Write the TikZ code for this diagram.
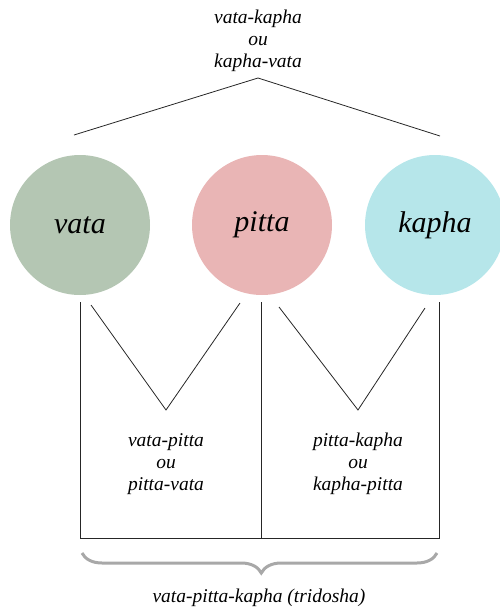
\documentclass[tikz,border=0pt]{standalone}
\usepackage{fontspec}
\setmainfont{Liberation Serif}
\usetikzlibrary{decorations.pathreplacing}
\definecolor{vatac}{HTML}{B4C6B3}
\definecolor{pittac}{HTML}{E9B5B5}
\definecolor{kaphac}{HTML}{B6E6EA}
\definecolor{bracec}{HTML}{A8A8A8}
\begin{document}
\begin{tikzpicture}[x=1pt,y=-1pt,
  dosha/.style={circle,minimum size=140pt,inner sep=0pt,font=\fontsize{30}{32}\selectfont\itshape},
  lbl/.style={align=center,font=\fontsize{19.5}{22}\selectfont\itshape,inner sep=0pt},
  ln/.style={draw=black!85,line width=0.8pt}]
\useasboundingbox (0,0) rectangle (500,611);
\node[lbl] (top) at (258,41) {vata-kapha\\ou\\kapha-vata};
\node[dosha,fill=vatac] (vata) at (80,225) {vata};
\node[dosha,fill=pittac] (pitta) at (262,225) {pitta};
\node[dosha,fill=kaphac] (kapha) at (435,225) {kapha};
% roof
\coordinate (r1) at (74,135);
\coordinate (ra) at (258,78);
\coordinate (r2) at (440,136);
\draw[ln] (r1) -- (ra) -- (r2);
% verticals and base
\coordinate (v1t) at (80,302);
\coordinate (v1b) at (80,538);
\coordinate (v2t) at (261,302);
\coordinate (v2b) at (261,538);
\coordinate (v3t) at (439,302);
\coordinate (v3b) at (439,538);
\draw[ln] (v1t) -- (v1b) -- (v3b) -- (v3t);
\draw[ln] (v2t) -- (v2b);
% V shapes
\coordinate (a1) at (91,305);
\coordinate (a2) at (166,410);
\coordinate (a3) at (240,303);
\draw[ln] (a1) -- (a2) -- (a3);
\coordinate (b1) at (279,307);
\coordinate (b2) at (358,410);
\coordinate (b3) at (425,308);
\draw[ln] (b1) -- (b2) -- (b3);
\node[lbl] (vp) at (166,464) {vata-pitta\\ou\\pitta-vata};
\node[lbl] (pk) at (358,464) {pitta-kapha\\ou\\kapha-pitta};
% brace
\coordinate (c1) at (82,553);
\coordinate (c2) at (437,553);
\draw[bracec,line width=3pt,decorate,decoration={brace,amplitude=20pt,aspect=0.495}] (c2) -- (c1);
\node[lbl] (tri) at (259,598) {vata-pitta-kapha (tridosha)};
\end{tikzpicture}
\end{document}
